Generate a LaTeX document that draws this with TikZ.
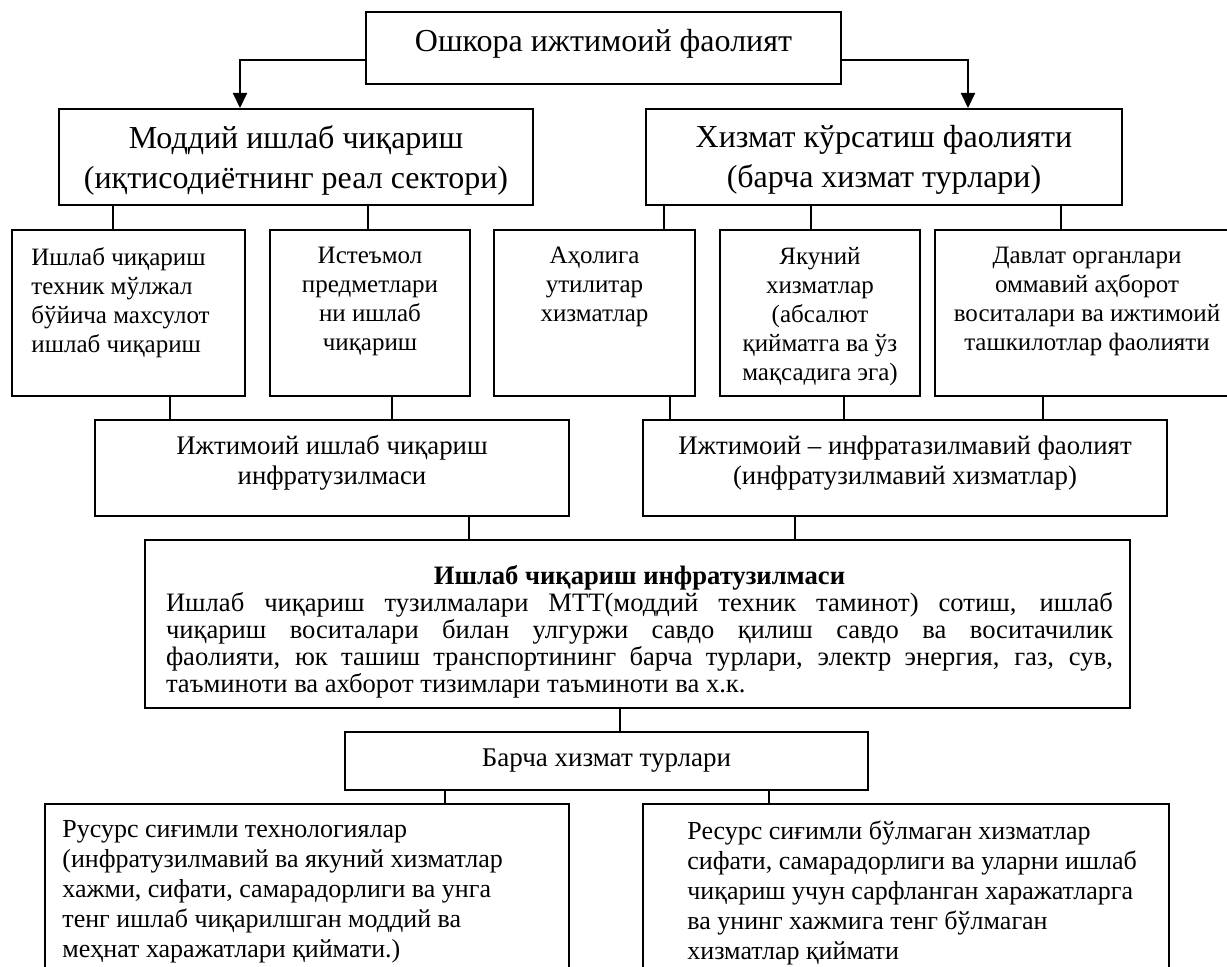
\documentclass[tikz,border=0pt]{standalone}
\usepackage{fontspec}
\setmainfont{Liberation Serif}
\usetikzlibrary{arrows.meta,fit}
\begin{document}
\begin{tikzpicture}[x=0.5pt,y=-0.5pt,
	box/.style={draw,line width=1pt,inner sep=0pt},
	con/.style={line width=0.75pt},
	arr/.style={line width=1pt,-{Triangle[length=7.5pt,width=7pt]}},
	head/.style={font=\fontsize{16}{20}\selectfont,inner sep=0pt,align=center},
	mid/.style={font=\fontsize{13.4}{15}\selectfont,inner sep=0pt,align=center},
	sml/.style={font=\fontsize{12.5}{14.5}\selectfont,inner sep=0pt,align=center},
	low/.style={font=\fontsize{13}{15}\selectfont,inner sep=0pt,align=left}]
	\useasboundingbox (0,0) rectangle (1227,967);
	\clip (0,0) rectangle (1227,967);
	\node[box,fit={(366,12) (841,84)}] (top) {};
	\node[head] (ttop) at ([yshift=2pt]top.center) {Ошкора ижтимоий фаолият};
	\node[box,fit={(59,109) (533,205)}] (mod) {};
	\node[head] (tmod) at ([yshift=-1.5pt]mod.center) {Моддий ишлаб чиқариш\\(иқтисодиётнинг реал сектори)};
	\node[box,fit={(646,109) (1122,205)}] (xiz) {};
	\node[head] (txiz) at ([yshift=-1.5pt]xiz.center) {Хизмат кўрсатиш фаолияти\\(барча хизмат турлари)};
	\draw[arr] (top.west |- 0,60) -| (mod.north -| 240,0);
	\draw[arr] (top.east |- 0,60) -| (xiz.north -| 968,0);
	\node[box,fit={(12,230) (245,396)}] (bA) {};
	\node[box,fit={(270,230) (470,396)}] (bB) {};
	\node[box,fit={(494,230) (695,396)}] (bC) {};
	\node[box,fit={(720,230) (920,396)}] (bD) {};
	\node[box,fit={(935,230) (1239,396)}] (bE) {};
	\node[sml,anchor=north west,align=left] (tA) at ([xshift=10pt,yshift=-9pt]bA.north west) {Ишлаб чиқариш\\техник мўлжал\\бўйича махсулот\\ишлаб чиқариш};
	\node[sml,anchor=north] (tB) at ([yshift=-9pt]bB.north) {Истеъмол\\предметлари\\ни ишлаб\\чиқариш};
	\node[sml,anchor=north] (tC) at ([yshift=-9pt]bC.north) {Аҳолига\\утилитар\\хизматлар};
	\node[sml,anchor=north] (tD) at ([yshift=-9pt]bD.north) {Якуний\\хизматлар\\(абсалют\\қийматга ва ўз\\мақсадига эга)};
	\node[sml,anchor=north] (tE) at ([yshift=-9pt]bE.north) {Давлат органлари\\оммавий аҳборот\\воситалари ва ижтимоий\\ташкилотлар фаолияти};
	\node[box,fit={(95,420) (569,516)}] (rL) {};
	\node[mid] (trL) at ([yshift=2.5pt]rL.center) {Ижтимоий ишлаб чиқариш\\инфратузилмаси};
	\node[box,fit={(643,420) (1167,516)}] (rR) {};
	\node[mid] (trR) at ([yshift=2.5pt]rR.center) {Ижтимоий – инфратазилмавий фаолият\\(инфратузилмавий хизматлар)};
	\node[box,fit={(145,540) (1130,708)}] (infra) {};
	\node[anchor=north,inner sep=0pt,text width=473.5pt,align=justify,font=\fontsize{13.3}{13.5}\selectfont] (tinf) at ([xshift=1pt,yshift=-13pt]infra.north) {{\centering\bfseries Ишлаб чиқариш инфратузилмаси\par}\noindent Ишлаб чиқариш тузилмалари МТТ(моддий техник таминот) сотиш, ишлаб\linebreak чиқариш воситалари билан улгуржи савдо қилиш савдо ва воситачилик\linebreak фаолияти, юк ташиш транспортининг барча турлари, электр энергия, газ, сув,\linebreak таъминоти ва ахборот тизимлари таъминоти ва х.к.};
	\node[box,fit={(345,732) (868,790)}] (bar) {};
	\node[inner sep=0pt,font=\fontsize{13.5}{15}\selectfont] (tbar) at (bar.center) {Барча хизмат турлари};
	\node[box,fit={(45,804) (569,990)}] (sL) {};
	\node[box,fit={(643,804) (1169,990)}] (sR) {};
	\node[low,anchor=north west] (tL) at ([xshift=9pt,yshift=-8.5pt]sL.north west) {Русурс сиғимли технологиялар\\(инфратузилмавий ва якуний хизматлар\\хажми, сифати, самарадорлиги ва унга\\тенг ишлаб чиқарилшган моддий ва\\меҳнат харажатлари қиймати.)};
	\node[low,anchor=north west] (tR) at ([xshift=22.5pt,yshift=-8.5pt]sR.north west) {Ресурс сиғимли бўлмаган хизматлар\\сифати, самарадорлиги ва уларни ишлаб\\чиқариш учун сарфланган харажатларга\\ва унинг хажмига тенг бўлмаган\\хизматлар қиймати};
	\foreach \u/\l/\x in {mod/bA/113,mod/bB/368,xiz/bC/664,xiz/bD/811,xiz/bE/1061,bA/rL/170,bB/rL/392,bC/rR/670,bD/rR/844,bE/rR/1043,rL/infra/469,rR/infra/795,infra/bar/620,bar/sL/445,bar/sR/769}
		\draw[con] (\u.south -| \x,0) -- (\l.north -| \x,0);
\end{tikzpicture}
\end{document}
